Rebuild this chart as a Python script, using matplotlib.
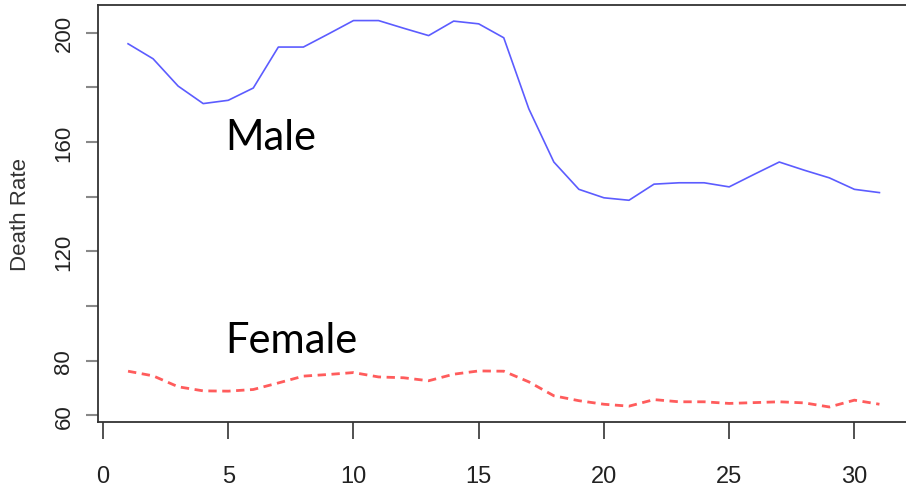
import numpy as np
import matplotlib
matplotlib.use('Agg')
import matplotlib.pyplot as plt

# Datos
dias = list(range(1, 32))
hombres = [196.0, 190.5, 180.5, 174.1, 175.3, 179.8, 194.8, 194.8, 199.6, 204.5,
           204.5, 201.7, 199.0, 204.3, 203.3, 198.2, 172.2, 152.7, 142.7, 139.6,
           138.7, 144.6, 145.1, 145.1, 143.6, 148.2, 152.7, 149.7, 146.9, 142.7,
           141.5]
mujeres = [76.1, 74.4, 70.4, 68.9, 68.8, 69.4, 71.8, 74.3, 74.9, 75.6,
           74.0, 73.7, 72.6, 75.0, 76.2, 76.1, 72.2, 67.1, 65.3, 64.0,
           63.3, 65.7, 64.9, 64.9, 64.3, 64.6, 64.9, 64.5, 63.0, 65.5,
           64.0]
yticks = [60, 80, 100, 120, 140, 160, 180, 200]
ylabels = ['60', '80', '', '120', '', '160', '', '200']
xticks = [0, 5, 10, 15, 20, 25, 30]

plt.rcParams['font.family'] = ['Liberation Sans', 'DejaVu Sans']

fig = plt.figure(figsize=(9.06, 4.89), dpi=100)
ax = fig.add_axes([98 / 906, 66 / 489, 811.5 / 906, 417 / 489])

ax.plot(dias, hombres, color='#5c5cff', linewidth=1.2)
ax.plot(dias, mujeres, color='#ff5c5c', linewidth=2.0, linestyle=(0, (3, 2)))

ax.text(4.88, 157.6, 'Male', fontsize=30, family='Lato', va='baseline')
ax.text(4.88, 83.3, 'Female', fontsize=30, family='Lato', va='baseline')

ax.set_xlim(-0.2, 32.2)
ax.set_ylim(57.5, 210.2)
ax.set_xticks(xticks)
ax.set_yticks(yticks)
ax.set_yticklabels(ylabels, rotation=90, va='center')
ax.set_ylabel('Death Rate', fontsize=16, labelpad=16, color='#333333')

ax.tick_params(axis='x', length=12, width=1.2, color='#333333', labelsize=17,
               pad=19, labelcolor='#222222')
ax.tick_params(axis='y', length=9, width=1.5, color='#888888', labelsize=16,
               pad=8, labelcolor='#222222')
for s in ax.spines.values():
    s.set_color('#333333')
    s.set_linewidth(1.3)

fig.savefig('out.png', dpi=100)
